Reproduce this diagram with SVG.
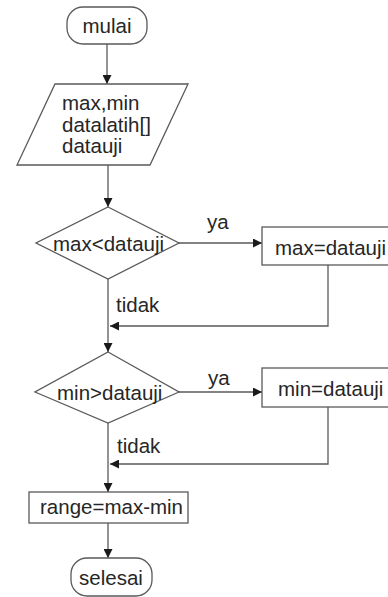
<svg xmlns="http://www.w3.org/2000/svg" width="388" height="597" viewBox="0 0 388 597">
  <style>
    .shape { fill: #ffffff; stroke: #5a5a5a; stroke-width: 1.3; }
    .edge { fill: none; stroke: #5a5a5a; stroke-width: 1.3; }
    .label { font-family: "Liberation Sans", Arial, sans-serif; font-size: 20.5px; fill: #262626; }
  </style>
  <defs>
    <marker id="arrow" markerUnits="userSpaceOnUse" markerWidth="10" markerHeight="9" refX="9" refY="4.5" orient="auto">
      <path d="M0,0 L9,4.5 L0,9 z" fill="#1a1a1a"/>
    </marker>
  </defs>
  <rect width="388" height="597" fill="#ffffff"/>

  <!-- connectors -->
  <g id="connectors">
    <line class="edge" x1="107" y1="44" x2="107" y2="84" marker-end="url(#arrow)"/>
    <line class="edge" x1="108" y1="165" x2="108" y2="207" marker-end="url(#arrow)"/>
    <line class="edge" x1="179" y1="243" x2="262" y2="243" marker-end="url(#arrow)"/>
    <line class="edge" x1="108" y1="279" x2="108" y2="352" marker-end="url(#arrow)"/>
    <polyline class="edge" points="328,265 328,326 110,326" marker-end="url(#arrow)"/>
    <line class="edge" x1="179" y1="392" x2="262" y2="392" marker-end="url(#arrow)"/>
    <line class="edge" x1="108" y1="423" x2="108" y2="492" marker-end="url(#arrow)"/>
    <polyline class="edge" points="328,407 328,464 110,464" marker-end="url(#arrow)"/>
    <line class="edge" x1="108" y1="523" x2="108" y2="558" marker-end="url(#arrow)"/>
    <text class="label" x="207" y="229">ya</text>
    <text class="label" x="116" y="312">tidak</text>
    <text class="label" x="208" y="385">ya</text>
    <text class="label" x="117" y="453">tidak</text>
  </g>

  <g id="mulai">
    <rect class="shape" x="67" y="7" width="80" height="37" rx="16" ry="16"/>
    <text class="label" x="107" y="33" text-anchor="middle">mulai</text>
  </g>

  <g id="input">
    <polygon class="shape" points="55,84 188,84 150,165 17,165"/>
    <text class="label" x="62" y="110">max,min</text>
    <text class="label" x="62" y="132">datalatih[]</text>
    <text class="label" x="62" y="153">datauji</text>
  </g>

  <g id="cek-max">
    <polygon class="shape" points="108,207 179,243 108,279 36,243"/>
    <text class="label" x="53" y="251">max&lt;datauji</text>
  </g>

  <g id="set-max">
    <rect class="shape" x="262" y="227" width="130" height="38"/>
    <text class="label" x="275" y="255">max=datauji</text>
  </g>

  <g id="cek-min">
    <polygon class="shape" points="108,352 179,392 108,423 35,392"/>
    <text class="label" x="57" y="400">min&gt;datauji</text>
  </g>

  <g id="set-min">
    <rect class="shape" x="262" y="368" width="130" height="39"/>
    <text class="label" x="278" y="396">min=datauji</text>
  </g>

  <g id="range">
    <rect class="shape" x="29" y="492" width="159" height="31"/>
    <text class="label" x="40" y="514">range=max-min</text>
  </g>

  <g id="selesai">
    <rect class="shape" x="71" y="558" width="81" height="38" rx="16" ry="16"/>
    <text class="label" x="111" y="585" text-anchor="middle">selesai</text>
  </g>
</svg>
